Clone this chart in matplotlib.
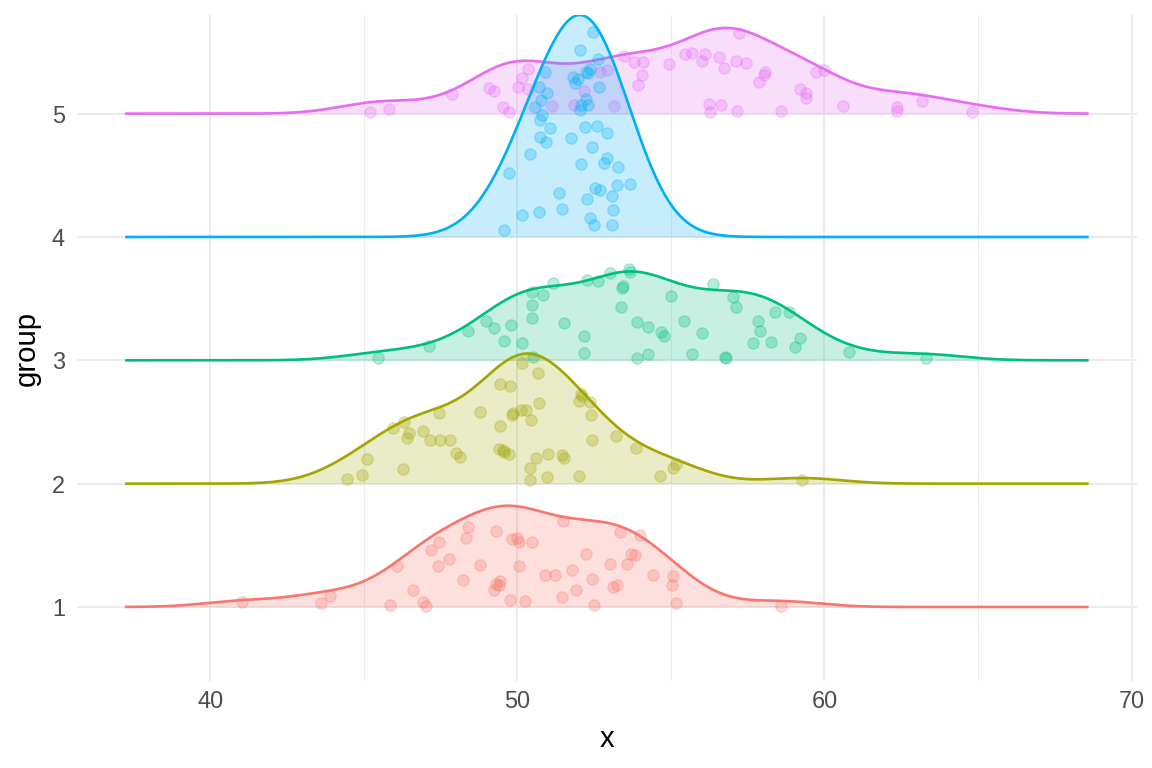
import numpy as np
import matplotlib
matplotlib.use("Agg")
import matplotlib.pyplot as plt
from matplotlib.ticker import FixedLocator

plt.rcParams["font.family"] = ["Liberation Sans", "DejaVu Sans"]

groups = [1, 2, 3, 4, 5]
colors = ["#F8766D", "#A3A500", "#00BF7D", "#00B0F6", "#E76BF3"]

# x values of the raw points per group, and how high above the baseline each point sits
g1_x = [41.04, 43.61, 43.91, 45.86, 46.08, 46.61, 46.94, 47.01, 47.20, 47.43,
        47.46, 47.79, 48.22, 48.33, 48.39, 48.79, 49.25, 49.31, 49.39, 49.43,
        49.30, 49.75, 49.82, 49.98, 50.05, 50.05, 50.24, 50.47, 50.90, 51.24,
        51.45, 51.48, 51.78, 51.92, 52.23, 52.44, 52.49, 53.03, 53.11, 53.25,
        53.33, 53.58, 53.71, 53.82, 54.00, 54.41, 55.04, 55.07, 55.17, 58.60]
g1_h = [0.04, 0.03, 0.09, 0.02, 0.33, 0.14, 0.04, 0.01, 0.46, 0.33,
        0.53, 0.39, 0.22, 0.56, 0.65, 0.34, 0.14, 0.19, 0.18, 0.21,
        0.62, 0.06, 0.55, 0.56, 0.53, 0.33, 0.05, 0.53, 0.26, 0.26,
        0.08, 0.70, 0.30, 0.14, 0.43, 0.23, 0.02, 0.35, 0.16, 0.18,
        0.61, 0.35, 0.43, 0.42, 0.58, 0.26, 0.18, 0.25, 0.03, 0.01]

g2_x = [44.45, 44.93, 45.11, 45.94, 46.29, 46.31, 46.41, 46.47, 46.92, 47.17,
        47.46, 47.49, 47.80, 47.99, 48.12, 48.79, 49.42, 49.44, 49.39, 49.53,
        49.58, 49.74, 49.77, 49.82, 49.85, 50.13, 50.16, 50.29, 50.46, 50.40,
        50.40, 50.62, 50.66, 50.69, 50.96, 51.00, 51.46, 51.51, 52.02, 52.02,
        52.06, 52.10, 52.37, 52.41, 52.44, 53.21, 53.87, 54.65, 55.07, 55.15,
        59.28]
g2_h = [0.04, 0.07, 0.20, 0.45, 0.12, 0.50, 0.37, 0.41, 0.43, 0.35,
        0.57, 0.35, 0.35, 0.25, 0.22, 0.58, 0.81, 0.47, 0.28, 0.27,
        0.26, 0.24, 0.79, 0.56, 0.57, 0.60, 0.98, 0.60, 0.52, 0.13,
        0.03, 0.21, 0.90, 0.65, 0.05, 0.24, 0.23, 0.21, 0.06, 0.67,
        0.73, 0.71, 0.66, 0.56, 0.35, 0.39, 0.29, 0.06, 0.13, 0.16,
        0.03]

g3_x = [45.47, 47.13, 48.38, 48.99, 49.25, 49.56, 49.80, 50.15, 50.49, 50.49,
        50.49, 50.52, 50.84, 51.15, 51.52, 52.17, 52.17, 52.27, 52.64, 53.03,
        53.64, 53.67, 53.37, 53.40, 53.43, 53.89, 53.89, 54.24, 54.24, 54.68,
        54.76, 55.01, 55.42, 55.70, 56.01, 56.38, 56.76, 56.80, 57.03, 57.13,
        57.67, 57.82, 57.91, 58.25, 58.40, 58.84, 59.04, 59.19, 60.79, 63.30]
g3_h = [0.02, 0.12, 0.24, 0.32, 0.26, 0.16, 0.29, 0.14, 0.55, 0.45,
        0.34, 0.03, 0.53, 0.63, 0.30, 0.20, 0.06, 0.65, 0.64, 0.71,
        0.74, 0.72, 0.43, 0.59, 0.60, 0.31, 0.02, 0.05, 0.27, 0.23,
        0.20, 0.52, 0.32, 0.05, 0.22, 0.62, 0.03, 0.02, 0.51, 0.43,
        0.14, 0.32, 0.24, 0.15, 0.39, 0.39, 0.11, 0.18, 0.07, 0.02]

g4_x = [49.56, 49.73, 50.14, 50.40, 50.70, 51.36, 51.44, 52.07, 52.27, 52.35,
        52.49, 52.54, 52.70, 53.07, 53.11, 53.09, 53.24, 53.29, 53.68, 52.81,
        52.93, 52.43, 51.76, 50.94, 50.73, 51.05, 52.20, 52.60, 52.93, 50.75,
        50.81, 50.56, 50.76, 50.98, 50.70, 50.91, 51.81, 51.87, 51.97, 52.03,
        52.06, 52.22, 52.30, 52.22, 52.30, 52.35, 52.66, 52.62, 52.03, 52.46]
g4_h = [0.06, 0.52, 0.18, 0.67, 0.20, 0.36, 0.23, 0.59, 0.31, 0.15,
        0.10, 0.40, 0.38, 0.10, 0.22, 0.33, 0.42, 0.57, 0.43, 0.60,
        0.64, 0.73, 0.80, 0.77, 0.81, 0.88, 0.89, 0.90, 0.84, 0.95,
        0.99, 1.05, 1.11, 1.17, 1.22, 1.34, 1.30, 1.25, 1.28, 1.03,
        1.07, 1.12, 1.07, 1.34, 1.33, 1.36, 1.22, 1.44, 1.52, 1.66]

g5_x = [45.21, 45.83, 47.87, 49.09, 49.23, 49.53, 49.72, 50.01, 50.15, 50.34,
        50.34, 51.13, 51.83, 52.16, 52.68, 52.92, 53.16, 53.46, 53.79, 54.09,
        54.06, 53.93, 54.95, 55.47, 55.69, 56.02, 56.10, 56.58, 56.72, 57.12,
        57.45, 57.23, 58.06, 58.02, 57.86, 59.20, 59.40, 59.41, 59.71, 59.98,
        56.25, 56.26, 56.64, 57.16, 58.60, 60.60, 62.35, 62.35, 63.16, 64.79]
g5_h = [0.01, 0.04, 0.16, 0.21, 0.18, 0.05, 0.01, 0.22, 0.29, 0.36,
        0.20, 0.06, 0.07, 0.18, 0.34, 0.35, 0.06, 0.47, 0.42, 0.42,
        0.31, 0.23, 0.40, 0.48, 0.49, 0.43, 0.48, 0.46, 0.37, 0.43,
        0.41, 0.65, 0.34, 0.31, 0.26, 0.20, 0.17, 0.13, 0.34, 0.35,
        0.08, 0.01, 0.07, 0.02, 0.02, 0.06, 0.05, 0.02, 0.10, 0.01]

xs = [g1_x, g2_x, g3_x, g4_x, g5_x]
hs = [g1_h, g2_h, g3_h, g4_h, g5_h]

scale = 1.8
n_grid = 512


def bw_nrd0(x):
    x = np.asarray(x, dtype=float)
    hi = x.std(ddof=1)
    q75, q25 = np.percentile(x, [75, 25])
    lo = min(hi, (q75 - q25) / 1.34)
    return 0.9 * lo * len(x) ** -0.2


def gauss_kde(x, grid, bw):
    x = np.asarray(x, dtype=float)
    z = (grid[:, None] - x[None, :]) / bw
    return np.exp(-0.5 * z ** 2).sum(axis=1) / (len(x) * bw * np.sqrt(2 * np.pi))


# joint bandwidth, like ggridges
bw = np.mean([bw_nrd0(x) for x in xs])
all_x = np.concatenate([np.asarray(x) for x in xs])
lo, hi = all_x.min() - 3 * bw, all_x.max() + 3 * bw
grid = np.linspace(lo, hi, n_grid)
dens = [gauss_kde(x, grid, bw) for x in xs]
dmax = max(d.max() for d in dens)

fig = plt.figure(figsize=(6, 4), dpi=192)
ax = fig.add_axes([0.0668, 0.1133, 0.92, 0.8672])

# top ridges first so lower ones sit on top of them
for i in reversed(range(len(groups))):
    g = groups[i]
    col = colors[i]
    top = g + dens[i] / dmax * scale
    z = 2 + (len(groups) - 1 - i) * 3
    ax.fill_between(grid, g, top, color=col, alpha=0.22, lw=0, zorder=z)
    ax.scatter(xs[i], g + np.asarray(hs[i]), s=18, color=col, alpha=0.28,
               linewidths=0.5, zorder=z + 1)
    ax.plot(grid, top, color=col, lw=1.0, zorder=z + 2, solid_capstyle="butt")

span = hi - lo
ax.set_xlim(lo - 0.05 * span, hi + 0.05 * span)
ax.set_ylim(groups[0] - 0.6, groups[-1] - 1 + scale)

ax.set_xticks([40, 50, 60, 70])
ax.xaxis.set_minor_locator(FixedLocator([45, 55, 65]))
ax.set_yticks(groups)
ax.set_yticklabels([str(g) for g in groups])

ax.grid(True, which="major", color="#EBEBEB", lw=0.75)
ax.grid(True, which="minor", axis="x", color="#EBEBEB", lw=0.4)
ax.set_axisbelow(True)
for s in ax.spines.values():
    s.set_visible(False)
ax.tick_params(which="both", length=0, labelsize=8.8, labelcolor="#4D4D4D")
ax.tick_params(axis="y", pad=4.5)
ax.tick_params(axis="x", pad=3.5)

ax.set_xlabel("x", fontsize=11, labelpad=4.5)
ax.set_ylabel("group", fontsize=11, labelpad=4)

fig.savefig("out.png", dpi=192)
